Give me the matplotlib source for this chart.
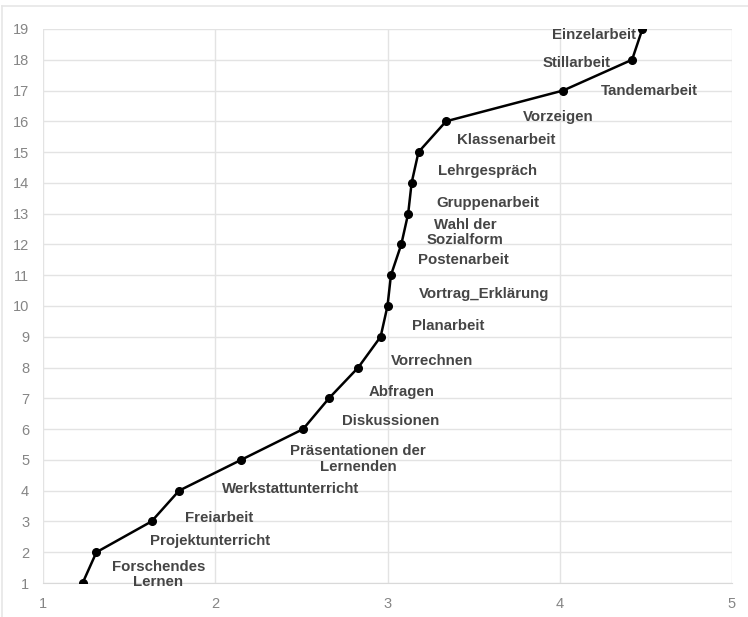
import matplotlib
matplotlib.use("Agg")
import matplotlib.pyplot as plt

ranks = list(range(1, 20))
means = [1.23, 1.31, 1.63, 1.79, 2.15, 2.51, 2.66, 2.83, 2.96, 3.00,
         3.02, 3.08, 3.12, 3.14, 3.18, 3.34, 4.02, 4.42, 4.48]
labels = ["Forschendes\nLernen", "Projektunterricht", "Freiarbeit", "Werkstattunterricht",
          "Präsentationen der\nLernenden", "Diskussionen", "Abfragen", "Vorrechnen",
          "Planarbeit", "Vortrag_Erklärung", "Postenarbeit", "Wahl der\nSozialform",
          "Gruppenarbeit", "Lehrgespräch", "Klassenarbeit", "Vorzeigen",
          "Tandemarbeit", "Stillarbeit", "Einzelarbeit"]
# label anchor points (data coords)
label_x = [1.67, 1.97, 2.02, 2.44, 2.83, 3.02, 3.08, 3.26, 3.35, 3.56,
           3.44, 3.45, 3.58, 3.58, 3.69, 3.99, 4.52, 4.10, 4.20]
label_y = [1.28, 2.35, 3.10, 4.05, 5.03, 6.26, 7.21, 8.22, 9.36, 10.40,
           11.48, 12.39, 13.33, 14.40, 15.38, 16.13, 17.00, 17.90, 18.80]

plt.rcParams["font.family"] = ["Liberation Sans", "DejaVu Sans"]

fig = plt.figure(figsize=(7.48, 6.17), dpi=100)
ax = fig.add_axes([0.0575, 0.0551, 0.9211, 0.898])

ax.plot(means, ranks, color="black", lw=1.8, marker="o", ms=5.5, zorder=3)

for lx, ly, t in zip(label_x, label_y, labels):
    ax.text(lx, ly, t, ha="center", va="center", fontsize=10.8,
            fontweight="bold", color="#454545", linespacing=1.1, zorder=4)

ax.set_xlim(1, 5)
ax.set_ylim(1, 19)
ax.set_xticks([1, 2, 3, 4, 5])
ax.set_yticks(ranks)
ax.grid(True, color="#e3e3e3", lw=1)
ax.set_axisbelow(True)
for s in ["top", "right", "left"]:
    ax.spines[s].set_visible(False)
ax.spines["bottom"].set_color("#d9d9d9")
ax.tick_params(length=0, colors="#858585", labelsize=10.5)
ax.tick_params(axis="x", pad=10)
ax.tick_params(axis="y", pad=10)

# light frame around the picture
fig.add_artist(plt.Line2D([0.003, 1], [0.99, 0.99], color="#e6e6e6", lw=1.2))
fig.add_artist(plt.Line2D([0.003, 0.003], [0, 0.99], color="#e6e6e6", lw=1.2))

fig.savefig("out.png", dpi=100)
